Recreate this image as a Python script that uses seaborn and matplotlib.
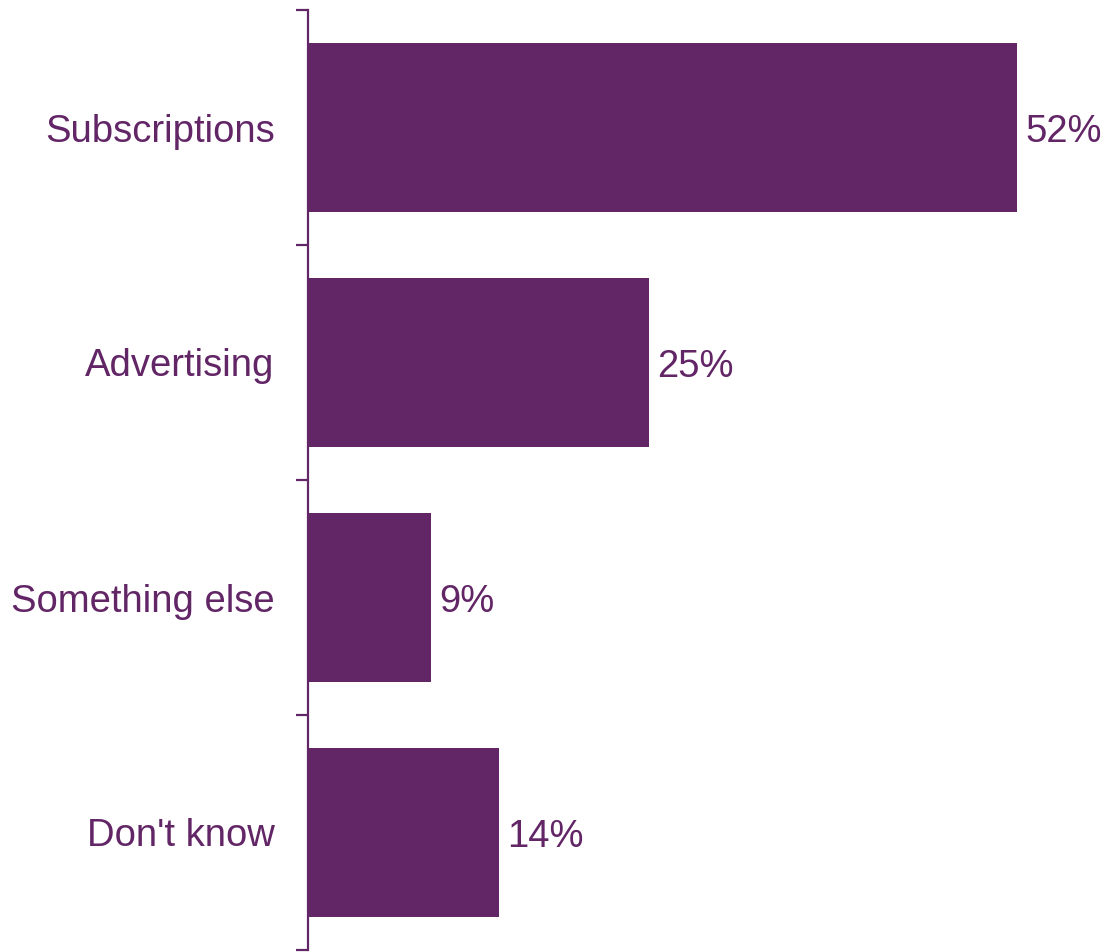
import matplotlib
matplotlib.use("Agg")
import matplotlib.pyplot as plt
import seaborn as sns
import pandas as pd
from matplotlib.ticker import FixedLocator

categories = ["Subscriptions", "Advertising", "Something else", "Don't know"]
shares = [52, 25, 9, 14]

PURPLE = "#622566"

sns.set_theme(style="white")
plt.rcParams["font.family"] = ["Liberation Sans", "DejaVu Sans"]

df = pd.DataFrame({"category": categories, "share": shares})

fig = plt.figure(figsize=(11.09, 9.52), dpi=100)
ax = fig.add_axes([308 / 1109, 1 - 950 / 952, 801 / 1109, 940 / 952])

sns.barplot(data=df, x="share", y="category", color=PURPLE, saturation=1,
            width=0.72, orient="h", linewidth=0, ax=ax)

ax.set_xlim(0, 52 * 801 / 709)
ax.set_ylim(len(categories) - 0.5, -0.5)
ax.set_xlabel("")
ax.set_ylabel("")
ax.set_xticks([])

for s in ["top", "right", "bottom"]:
    ax.spines[s].set_visible(False)
ax.spines["left"].set_color(PURPLE)
ax.spines["left"].set_linewidth(1.6)

# category boundary ticks on the left spine
ax.yaxis.set_minor_locator(FixedLocator([i - 0.5 for i in range(len(categories) + 1)]))
ax.tick_params(axis="y", which="minor", left=True, length=8.5, width=1.6, color=PURPLE)
ax.tick_params(axis="y", which="major", left=False, length=0, pad=24,
               labelsize=27.5, labelcolor=PURPLE)
for lbl in ax.get_yticklabels():
    lbl.set_y(lbl.get_position()[1])

for i, v in enumerate(shares):
    ax.annotate(f"{v}%", xy=(v, i), xytext=(6, -3), textcoords="offset points",
                va="center", ha="left", fontsize=27.5, color=PURPLE,
                annotation_clip=False)

fig.savefig("out.png", dpi=100)
